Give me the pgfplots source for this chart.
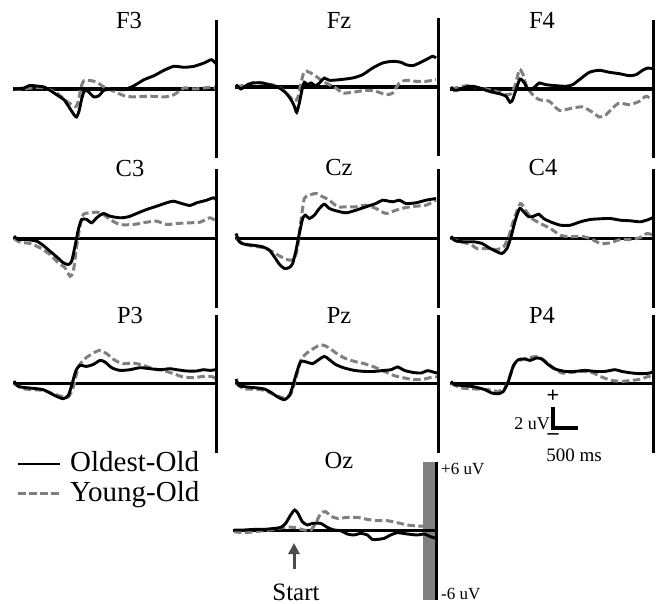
\documentclass[border=0pt]{standalone}
\usepackage{pgfplots}
\pgfplotsset{compat=1.18}
\usetikzlibrary{arrows.meta}
\usepackage{fontspec}
\setmainfont{Liberation Serif}
\definecolor{eg}{RGB}{128,128,128}
\definecolor{arr}{RGB}{75,75,75}
\pgfplotsset{
  erp/.style={hide axis, clip=false, x=0.05pt, y=10pt, xmin=-1220, xmax=2870, ymin=-7, ymax=7, anchor=south west},
  base/.style={black, line width=3.2pt, line cap=butt},
  vline/.style={black, line width=3.8pt, line cap=butt},
  young/.style={eg, line width=3pt, dash pattern=on 7.5pt off 3.5pt, smooth, tension=0.4},
  oldest/.style={black, line width=2.9pt, smooth, tension=0.4},
}
\newcommand{\ttl}[3]{\node[anchor=base, inner sep=0pt, font=\fontsize{24.5}{24.5}\selectfont] at (#1pt,-#2pt) {#3};}
\begin{document}
\begin{tikzpicture}
\useasboundingbox (0,0) rectangle (658pt,-604pt);
% ---------- F3 ----------
\begin{axis}[erp, at={(13pt,-159pt)}]
\addplot[base] coordinates {(-1220,0) (2850,0)};
\addplot[young] coordinates {(-1200,0) (-1000,0) (-800,0.13) (-600,0.1) (-400,-0.23) (-300,-0.57) (-200,-1.0) (-100,-1.4) (0,-1.67) (50,-1.73) (100,-0.9) (150,0.33) (200,0.83) (300,0.87) (400,0.77) (500,0.53) (600,0.2) (800,-0.23) (1000,-0.67) (1200,-0.8) (1400,-0.73) (1600,-0.73) (1800,-0.8) (2000,-0.57) (2200,0.1) (2400,0) (2600,0.1) (2800,0.2) (2840,-0.07)};
\addplot[oldest] coordinates {(-1200,0) (-1000,0.1) (-900,0.33) (-800,0.33) (-700,0.27) (-600,0.2) (-500,-0.07) (-400,-0.4) (-300,-0.73) (-200,-1.07) (-100,-1.8) (0,-2.57) (50,-2.8) (100,-2.23) (150,-1.07) (200,-0.23) (250,-0.13) (300,-0.33) (400,-0.8) (500,-0.67) (600,-0.13) (800,0) (1000,-0.07) (1200,0.33) (1400,0.93) (1600,1.33) (1800,1.87) (2000,2.27) (2200,2.17) (2400,2.27) (2600,2.6) (2750,2.93) (2840,2.53)};
\addplot[vline] coordinates {(2850,-6.9) (2850,6.9)};
\end{axis}
% ---------- Fz ----------
\begin{axis}[erp, at={(235pt,-157pt)}]
\addplot[base] coordinates {(-1220,0) (2850,0)};
\addplot[young] coordinates {(-1200,0) (-1000,0.23) (-800,0.47) (-600,0.33) (-400,0.13) (-267,-0.27) (-133,-0.93) (-33,-1.43) (33,-1.1) (100,0.4) (167,1.57) (267,1.47) (400,1.07) (533,0.57) (667,0.23) (800,-0.1) (933,-0.6) (1133,-0.53) (1400,-0.33) (1600,-0.43) (1800,-0.77) (1933,-0.6) (2067,0.4) (2200,0.67) (2400,0.57) (2600,0.57) (2800,0.73)};
\addplot[oldest] coordinates {(-1200,0.23) (-1100,-0.2) (-1000,0.13) (-867,0.4) (-667,0.4) (-467,0.13) (-333,-0.1) (-200,-0.6) (-100,-1.27) (-33,-1.93) (13,-2.53) (67,-1.6) (120,-0.27) (167,0.47) (233,0.23) (300,0.4) (400,0.13) (500,0.57) (567,0.9) (667,0.67) (867,0.73) (1133,0.9) (1333,1.23) (1533,1.9) (1733,2.4) (1933,2.57) (2100,2.47) (2200,2.23) (2333,2.13) (2467,2.4) (2600,2.73) (2733,3.07) (2800,2.9)};
\addplot[vline] coordinates {(2850,-6.9) (2850,6.9)};
\end{axis}
% ---------- F4 ----------
\begin{axis}[erp, at={(450pt,-159pt)}]
\addplot[base] coordinates {(-1220,0) (2850,0)};
\addplot[young] coordinates {(-1200,0) (-1033,0.2) (-867,0.33) (-700,0.2) (-500,0) (-300,-0.23) (-100,-0.57) (0,-0.47) (87,0.43) (167,1.93) (233,1.53) (313,0.27) (433,-0.57) (567,-1.07) (767,-1.23) (967,-2.13) (1233,-1.9) (1433,-1.8) (1633,-2.33) (1767,-2.8) (1900,-2.57) (2033,-1.9) (2167,-1.4) (2367,-1.57) (2567,-1.23) (2700,-0.73) (2830,-1.07)};
\addplot[oldest] coordinates {(-1200,0.2) (-1133,-0.13) (-1033,-0.07) (-900,0.2) (-767,0.27) (-633,0.1) (-500,-0.13) (-367,-0.33) (-233,-0.47) (-100,-0.73) (-20,-1.33) (33,-1.07) (100,-0.07) (180,1.0) (267,0.6) (333,0) (400,-0.07) (500,0.33) (567,0.6) (700,0.43) (900,0.33) (1100,0.27) (1233,0.43) (1367,0.93) (1567,1.67) (1767,1.87) (1967,1.67) (2167,1.53) (2367,1.33) (2500,1.43) (2633,1.87) (2733,2.1) (2830,2.03)};
\addplot[vline] coordinates {(2850,-6.9) (2850,6.9)};
\end{axis}
% ---------- C3 ----------
\begin{axis}[erp, at={(13pt,-308.5pt)}]
\addplot[base] coordinates {(-1220,0) (2850,0)};
\addplot[young] coordinates {(-1200,0) (-1080,-0.37) (-880,-0.5) (-680,-0.93) (-480,-1.6) (-313,-2.43) (-180,-2.93) (-80,-3.77) (-13,-3.27) (53,-0.77) (120,1.23) (187,2.4) (320,2.57) (453,2.63) (587,2.4) (720,1.9) (920,1.4) (1187,1.4) (1453,1.63) (1653,1.73) (1853,1.4) (2053,1.5) (2320,1.57) (2520,1.63) (2720,2.07) (2840,1.73)};
\addplot[oldest] coordinates {(-1200,0.23) (-1113,-0.1) (-947,-0.1) (-747,-0.27) (-613,-0.7) (-480,-1.27) (-347,-1.83) (-213,-2.43) (-113,-2.6) (-47,-2.27) (20,-0.77) (87,0.9) (153,1.9) (253,1.9) (353,1.57) (453,2.07) (587,2.5) (720,2.23) (920,2.07) (1087,2.17) (1253,2.5) (1453,2.9) (1653,3.23) (1853,3.57) (1987,3.73) (2153,3.5) (2320,3.3) (2453,3.57) (2653,3.83) (2787,4.07) (2840,3.9)};
\addplot[vline] coordinates {(2850,-6.9) (2850,6.9)};
\end{axis}
% ---------- Cz ----------
\begin{axis}[erp, at={(235pt,-308.5pt)}]
\addplot[base] coordinates {(-1220,0) (2850,0)};
\addplot[young] coordinates {(-1200,0) (-1067,-0.5) (-867,-0.77) (-667,-0.9) (-467,-1.33) (-300,-1.83) (-133,-2.17) (-33,-2.0) (33,-0.83) (100,1.83) (167,4.0) (267,4.33) (400,4.5) (533,4.17) (667,3.83) (833,3.17) (1000,3.17) (1200,3.17) (1400,3.33) (1600,3.0) (1800,2.5) (2000,2.83) (2200,3.1) (2400,3.23) (2600,3.33) (2800,3.83)};
\addplot[oldest] coordinates {(-1200,0.5) (-1133,-0.33) (-1033,-0.57) (-867,-0.67) (-667,-0.83) (-533,-1.17) (-433,-1.83) (-333,-2.57) (-233,-3.0) (-133,-2.9) (-67,-2.5) (0,-1.17) (67,0.5) (133,2.0) (187,2.33) (267,2.0) (367,2.33) (467,3.0) (567,3.43) (667,3.0) (800,2.77) (1000,2.57) (1200,2.83) (1400,3.17) (1600,3.5) (1733,3.83) (1933,3.67) (2067,3.83) (2200,3.5) (2400,3.57) (2600,3.83) (2800,4.0)};
\addplot[vline] coordinates {(2850,-6.9) (2850,6.9)};
\end{axis}
% ---------- C4 ----------
\begin{axis}[erp, at={(450pt,-308.5pt)}]
\addplot[base] coordinates {(-1220,0) (2850,0)};
\addplot[young] coordinates {(-1200,0) (-1013,-0.33) (-813,-0.57) (-680,-1.0) (-480,-1.0) (-280,-1.1) (-147,-0.83) (-47,0.17) (53,1.83) (187,3.5) (287,2.83) (420,2.0) (587,1.5) (787,1.0) (987,0.33) (1187,0.17) (1387,0.23) (1587,0) (1787,-0.5) (1987,-0.43) (2187,-0.1) (2387,-0.1) (2587,0.1) (2720,0.5) (2840,0.33)};
\addplot[oldest] coordinates {(-1200,0.23) (-1113,-0.23) (-947,-0.33) (-747,-0.33) (-580,-0.5) (-413,-1.0) (-280,-1.33) (-180,-1.5) (-80,-1.0) (0,0.17) (87,1.83) (173,3.0) (253,2.67) (353,2.17) (453,2.23) (553,2.43) (653,2.0) (787,1.67) (987,1.33) (1187,1.33) (1387,1.67) (1587,1.9) (1787,1.97) (1987,2.0) (2187,1.83) (2387,1.77) (2587,1.67) (2753,1.9) (2840,2.1)};
\addplot[vline] coordinates {(2850,-6.9) (2850,6.9)};
\end{axis}
% ---------- P3 ----------
\begin{axis}[erp, at={(13pt,-453.7pt)}]
\addplot[base] coordinates {(-1220,0) (2850,0)};
\addplot[young] coordinates {(-1200,0) (-1013,-0.5) (-813,-0.6) (-613,-0.67) (-413,-1.0) (-247,-1.27) (-113,-1.33) (-13,-0.33) (87,1.67) (220,2.5) (387,3.07) (520,3.33) (653,3.0) (820,2.33) (987,2.0) (1187,2.07) (1387,1.83) (1587,1.5) (1787,1.33) (1987,1.0) (2187,0.67) (2387,0.6) (2587,0.73) (2753,0.73) (2840,0.5)};
\addplot[oldest] coordinates {(-1200,0.27) (-1113,-0.27) (-947,-0.4) (-747,-0.5) (-613,-0.6) (-480,-0.93) (-347,-1.27) (-213,-1.5) (-113,-1.17) (-47,-0.17) (40,1.33) (120,1.83) (253,1.73) (387,1.93) (520,2.33) (620,2.17) (753,1.6) (920,1.33) (1120,1.4) (1320,1.6) (1520,1.5) (1720,1.4) (1920,1.5) (2053,1.4) (2253,1.27) (2453,1.27) (2587,1.4) (2720,1.33) (2840,1.4)};
\addplot[vline] coordinates {(2850,-6.9) (2850,6.9)};
\end{axis}
% ---------- Pz ----------
\begin{axis}[erp, at={(235pt,-453.7pt)}]
\addplot[base] coordinates {(-1220,0) (2850,0)};
\addplot[young] coordinates {(-1200,0) (-1033,-0.53) (-833,-0.53) (-633,-0.67) (-433,-1.1) (-233,-1.43) (-100,-1.0) (0,0.57) (100,2.4) (233,3.13) (367,3.57) (500,3.9) (633,3.67) (800,3.07) (967,2.57) (1167,2.23) (1367,2.0) (1567,1.67) (1767,1.23) (1967,0.8) (2167,0.57) (2367,0.4) (2567,0.47) (2733,0.67) (2833,0.67)};
\addplot[oldest] coordinates {(-1200,0.47) (-1133,-0.2) (-967,-0.33) (-767,-0.43) (-633,-0.53) (-500,-0.87) (-367,-1.33) (-233,-1.6) (-133,-1.2) (-67,-0.27) (20,1.23) (100,2.23) (233,2.13) (333,2.0) (433,2.33) (567,2.73) (667,2.4) (800,1.9) (967,1.57) (1167,1.33) (1367,1.23) (1567,1.23) (1767,1.33) (1900,1.4) (2033,1.67) (2167,1.33) (2333,1.13) (2500,1.07) (2633,1.3) (2767,1.13) (2833,1.07)};
\addplot[vline] coordinates {(2850,-6.9) (2850,6.9)};
\end{axis}
% ---------- P4 ----------
\begin{axis}[erp, at={(450pt,-453.7pt)}]
\addplot[base] coordinates {(-1220,0) (2850,0)};
\addplot[young] coordinates {(-1200,0) (-987,-0.43) (-720,-0.53) (-453,-0.6) (-253,-0.77) (-120,-0.43) (-20,0.8) (80,2.07) (213,2.4) (347,2.57) (513,2.73) (647,2.4) (813,1.73) (1013,1.07) (1213,1.13) (1413,1.23) (1613,1.13) (1813,0.67) (2013,0.33) (2213,0.23) (2413,0.33) (2613,0.47) (2747,0.73) (2840,0.47)};
\addplot[oldest] coordinates {(-1200,0.23) (-1120,-0.1) (-920,-0.2) (-720,-0.33) (-520,-0.6) (-387,-0.93) (-253,-1.0) (-153,-0.77) (-53,0.23) (47,1.8) (147,2.4) (280,2.47) (380,2.33) (513,2.57) (613,2.47) (747,1.9) (880,1.47) (1080,1.23) (1280,1.23) (1480,1.33) (1680,1.23) (1880,1.23) (2080,1.4) (2213,1.23) (2413,1.07) (2613,1.0) (2780,1.07) (2840,1.23)};
\addplot[vline] coordinates {(2850,-6.9) (2850,6.9)};
\end{axis}
% ---------- Oz ----------
\fill[eg] (423pt,-462pt) rectangle (435pt,-600pt);
\begin{axis}[erp, at={(233pt,-600.7pt)}]
\addplot[base] coordinates {(-1220,0) (2850,0)};
\addplot[young] coordinates {(-1200,-0.1) (-1000,-0.2) (-800,-0.1) (-600,0) (-400,0.13) (-200,0.33) (0,0.33) (200,0.07) (333,0.07) (433,0.73) (533,1.73) (633,1.9) (733,1.47) (867,1.23) (1067,1.33) (1267,1.33) (1467,1.13) (1667,1.0) (1867,1.0) (2067,0.8) (2267,0.57) (2467,0.47) (2600,0.47) (2733,0.73) (2840,0.8)};
\addplot[oldest] coordinates {(-1200,0.07) (-1000,0.07) (-800,0.13) (-600,0.13) (-400,0.23) (-267,0.33) (-167,0.73) (-67,1.57) (13,2.07) (80,1.73) (167,0.9) (267,0.57) (367,0.73) (533,0.73) (667,0.33) (800,0.07) (933,0) (1067,-0.33) (1200,-0.43) (1333,-0.27) (1467,-0.43) (1567,-0.87) (1667,-0.87) (1800,-0.77) (1933,-0.43) (2067,-0.2) (2267,-0.33) (2467,-0.43) (2600,-0.33) (2733,-0.6) (2840,-0.77)};
\addplot[vline] coordinates {(2850,-6.9) (2850,6.9)};
\end{axis}
% ---------- titles ----------
\ttl{129}{28.3}{F3}
\ttl{339}{29}{Fz}
\ttl{542}{28.5}{F4}
\ttl{130}{176.5}{C3}
\ttl{339}{175.5}{Cz}
\ttl{543}{175.5}{C4}
\ttl{130}{323}{P3}
\ttl{339}{323}{Pz}
\ttl{542}{323}{P4}
\ttl{339}{468.3}{Oz}
% ---------- legend ----------
\draw[black, line width=2.9pt] (18pt,-464pt) -- (60pt,-464pt);
\draw[eg, line width=3pt, dash pattern=on 7.5pt off 3.5pt] (18pt,-493pt) -- (60pt,-493pt);
\node[anchor=base west, inner sep=0pt, font=\fontsize{29}{29}\selectfont] at (70pt,-471pt) {Oldest-Old};
\node[anchor=base west, inner sep=0pt, font=\fontsize{29}{29}\selectfont] at (70pt,-501pt) {Young-Old};
% ---------- scale bar ----------
\draw[black, line width=3.2pt] (553pt,-407pt) -- (553pt,-428pt) -- (578pt,-428pt);
\node[inner sep=0pt, font=\fontsize{22}{22}\selectfont\bfseries] at (553pt,-396pt) {+};
\node[inner sep=0pt, font=\fontsize{22}{22}\selectfont\bfseries] at (553pt,-437pt) {–};
\node[anchor=base east, inner sep=0pt, font=\fontsize{18}{18}\selectfont] at (550pt,-429pt) {2 uV};
\node[anchor=base, inner sep=0pt, font=\fontsize{19}{19}\selectfont] at (574pt,-461pt) {500 ms};
% ---------- Oz annotations ----------
\node[anchor=base west, inner sep=0pt, font=\fontsize{17}{17}\selectfont] at (441pt,-474pt) {+6 uV};
\node[anchor=base west, inner sep=0pt, font=\fontsize{17}{17}\selectfont] at (441pt,-599pt) {-6 uV};
\draw[arr, line width=3pt, -{Triangle[length=11pt,width=11pt]}] (294pt,-569pt) -- (294pt,-543pt);
\node[anchor=base, inner sep=0pt, font=\fontsize{25}{25}\selectfont] at (296pt,-600pt) {Start};
\end{tikzpicture}
\end{document}
